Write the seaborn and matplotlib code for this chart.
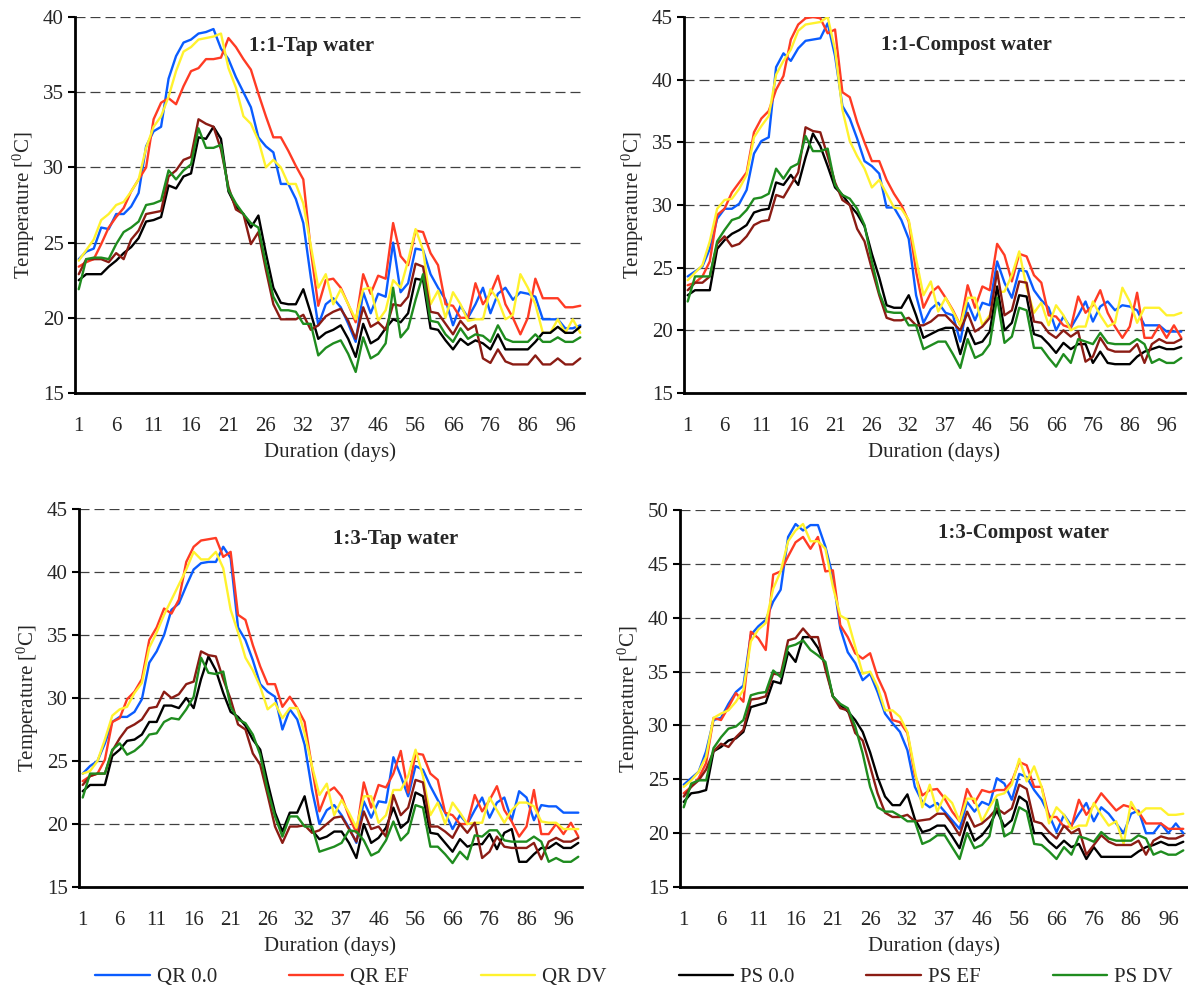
import numpy as np
import pandas as pd
import matplotlib
matplotlib.use("Agg")
import matplotlib.pyplot as plt
import seaborn as sns

# ---------------------------------------------------------------------------
# Pile temperatures (deg C) at 68 sampling occasions over ~100 days
# ---------------------------------------------------------------------------
day_labels = ["1", "6", "11", "16", "21", "26", "32", "37", "46", "56", "66", "76", "86", "96"]
series_names = ["QR 0.0", "QR EF", "QR DV", "PS 0.0", "PS EF", "PS DV"]
series_colors = ["#0a5cff", "#ff3b24", "#fff22e", "#000000", "#8b1c14", "#1f8c1f"]

# 1:1 - Tap water
a_qr00 = [23.9, 24.4, 24.6, 26.0, 25.9, 26.9, 26.9, 27.4, 28.3, 31.4, 32.4, 32.7, 35.9, 37.4, 38.3, 38.5, 38.9, 39.0, 39.2, 37.9, 37.2, 36.0, 35.0, 34.0, 32.0, 31.4, 31.0, 28.9, 28.9, 27.9, 26.3, 22.7, 19.5, 20.9,
          21.3, 20.7, 19.6, 18.4, 21.7, 20.3, 21.6, 21.4, 25.0, 21.7, 22.3, 24.6, 24.5, 22.9, 22.0, 21.2, 19.5, 20.8, 20.0, 20.9, 22.0, 20.3, 21.6, 22.0, 21.2, 21.7, 21.6, 21.4, 19.9, 19.9, 19.9, 19.3, 19.3, 19.5]
a_qref = [23.4, 23.7, 23.9, 24.9, 26.0, 26.7, 27.3, 28.4, 29.2, 30.0, 33.2, 34.3, 34.6, 34.2, 35.4, 36.4, 36.6, 37.2, 37.2, 37.3, 38.6, 38.0, 37.2, 36.5, 34.9, 33.4, 32.0, 32.0, 31.1, 30.1, 29.2, 24.5, 20.8, 22.5,
          22.6, 22.0, 20.9, 19.7, 22.9, 21.6, 22.8, 22.6, 26.3, 24.1, 23.5, 25.8, 25.7, 24.3, 23.5, 20.9, 20.8, 20.0, 20.0, 22.3, 20.9, 21.6, 22.8, 20.9, 20.0, 18.9, 20.0, 22.6, 21.3, 21.3, 21.3, 20.7, 20.7, 20.8]
a_qrdv = [23.8, 24.5, 25.2, 26.5, 26.9, 27.5, 27.7, 28.4, 29.2, 31.3, 32.7, 33.4, 34.7, 36.4, 37.7, 38.0, 38.5, 38.6, 38.7, 38.9, 36.6, 35.3, 33.4, 32.9, 31.8, 30.0, 30.5, 30.0, 28.9, 28.9, 27.6, 24.8, 22.0, 22.9,
          20.9, 21.9, 20.9, 19.9, 21.9, 22.0, 19.8, 20.5, 22.5, 22.0, 23.8, 25.9, 24.5, 20.9, 21.8, 20.0, 21.7, 20.9, 19.8, 19.9, 19.9, 21.9, 21.2, 19.9, 20.2, 22.9, 22.0, 20.9, 19.0, 19.0, 19.9, 19.0, 19.9, 19.0]
a_ps00 = [22.5, 22.9, 22.9, 22.9, 23.4, 23.8, 24.3, 24.7, 25.3, 26.4, 26.5, 26.7, 28.8, 28.6, 29.4, 29.6, 32.0, 31.9, 32.7, 31.9, 28.4, 27.4, 26.9, 26.0, 26.8, 24.3, 22.0, 21.0, 20.9, 20.9, 21.9, 20.3, 18.6, 19.0,
          19.2, 19.5, 18.6, 17.4, 19.6, 18.3, 18.6, 19.3, 19.9, 19.7, 20.3, 22.6, 22.5, 19.3, 19.2, 18.5, 17.9, 18.6, 18.2, 18.5, 18.3, 17.9, 18.9, 17.9, 17.9, 17.9, 17.9, 18.4, 19.0, 19.0, 19.4, 19.0, 19.0, 19.4]
a_psef = [22.9, 23.9, 23.9, 23.9, 23.7, 24.3, 23.9, 25.2, 25.8, 26.9, 27.0, 27.1, 29.4, 29.8, 30.5, 30.7, 33.2, 32.9, 32.7, 31.2, 28.7, 27.2, 26.9, 24.9, 25.7, 23.2, 20.9, 19.9, 19.9, 19.9, 20.2, 19.2, 19.5, 20.1,
          20.4, 20.6, 19.8, 18.6, 20.7, 19.4, 19.7, 19.2, 20.9, 20.8, 21.4, 23.6, 23.4, 20.4, 20.3, 19.6, 18.9, 19.8, 19.2, 19.5, 17.3, 17.0, 17.9, 17.1, 16.9, 16.9, 16.9, 17.5, 16.9, 16.9, 17.3, 16.9, 16.9, 17.3]
a_psdv = [21.9, 23.9, 24.0, 24.0, 23.9, 24.9, 25.7, 26.0, 26.4, 27.5, 27.6, 27.8, 29.8, 29.2, 29.8, 30.2, 32.6, 31.3, 31.3, 31.5, 28.5, 27.6, 26.9, 26.3, 26.0, 23.6, 21.4, 20.5, 20.5, 20.4, 19.6, 19.6, 17.5, 18.0,
          18.3, 18.5, 17.6, 16.4, 18.7, 17.3, 17.6, 18.3, 22.0, 18.7, 19.3, 21.2, 22.9, 19.8, 19.7, 18.9, 18.4, 19.3, 18.6, 18.9, 18.8, 18.4, 19.5, 18.6, 18.4, 18.4, 18.4, 18.9, 18.4, 18.4, 18.7, 18.4, 18.4, 18.7]

# 1:1 - Compost water
b_qr00 = [24.3, 24.7, 25.1, 26.5, 28.9, 29.7, 29.7, 30.1, 31.2, 34.1, 35.1, 35.4, 41.0, 42.1, 41.5, 42.5, 43.1, 43.2, 43.3, 44.5, 41.9, 37.9, 36.9, 35.3, 33.5, 33.1, 32.5, 29.8, 29.8, 28.8, 27.3, 22.8, 20.6, 21.7,
          22.2, 21.4, 21.2, 19.1, 22.2, 20.8, 22.2, 22.0, 25.5, 23.8, 22.6, 24.8, 24.7, 23.2, 22.4, 21.8, 20.0, 21.1, 20.2, 21.2, 22.3, 20.7, 21.9, 22.3, 21.6, 22.0, 21.9, 21.6, 20.4, 20.4, 20.4, 19.9, 19.9, 19.9]
b_qref = [23.6, 23.8, 24.3, 25.5, 29.2, 29.7, 31.0, 31.8, 32.6, 35.8, 36.9, 37.5, 39.2, 40.3, 43.2, 44.4, 44.9, 45.0, 44.9, 43.7, 44.0, 39.0, 38.6, 36.6, 35.0, 33.5, 33.5, 32.0, 30.9, 30.0, 28.7, 24.7, 21.8, 23.0,
          23.5, 22.6, 21.6, 20.4, 23.6, 21.8, 23.5, 23.2, 26.9, 26.0, 23.9, 26.1, 25.9, 24.4, 23.8, 21.2, 21.1, 20.4, 20.2, 22.7, 21.4, 22.0, 23.2, 21.4, 20.3, 19.4, 20.3, 23.0, 19.4, 19.4, 20.4, 19.4, 20.4, 19.4]
b_qrdv = [24.0, 24.6, 25.2, 27.1, 29.7, 30.4, 30.5, 31.3, 32.4, 35.4, 36.3, 37.1, 40.4, 41.5, 42.4, 43.9, 44.4, 44.5, 44.6, 45.0, 42.4, 37.6, 35.1, 33.9, 32.9, 31.4, 32.0, 30.9, 29.8, 29.7, 28.8, 25.7, 22.8, 23.9,
          21.5, 22.6, 21.5, 20.4, 22.6, 22.6, 20.4, 21.2, 23.0, 23.1, 24.4, 26.3, 23.4, 21.4, 22.2, 20.4, 22.0, 21.2, 20.0, 20.3, 20.3, 22.3, 21.2, 20.3, 20.6, 23.4, 22.3, 20.6, 21.8, 21.8, 21.8, 21.2, 21.2, 21.4]
b_ps00 = [22.8, 23.2, 23.2, 23.2, 26.5, 27.2, 27.7, 28.0, 28.4, 29.4, 29.6, 29.7, 31.8, 31.6, 32.4, 31.6, 33.8, 35.7, 34.7, 33.1, 31.4, 30.8, 30.0, 29.3, 28.3, 26.1, 24.2, 22.0, 21.8, 21.8, 22.8, 21.2, 19.4, 19.7,
          20.0, 20.2, 20.2, 18.1, 20.2, 18.9, 19.1, 19.9, 23.5, 20.0, 20.6, 22.8, 22.7, 19.7, 19.5, 18.9, 18.2, 19.0, 18.5, 18.9, 18.9, 17.4, 18.3, 17.4, 17.3, 17.3, 17.3, 17.9, 18.3, 18.5, 18.7, 18.5, 18.5, 18.7]
b_psef = [23.2, 23.8, 23.8, 24.3, 26.9, 27.5, 26.7, 26.9, 27.5, 28.4, 28.7, 28.8, 30.8, 30.6, 31.6, 32.6, 36.2, 35.9, 35.8, 33.9, 31.8, 30.4, 30.0, 28.1, 27.1, 24.9, 22.8, 21.0, 20.8, 20.8, 21.0, 20.4, 20.4, 20.7,
          21.2, 21.2, 20.6, 20.0, 21.4, 19.9, 20.3, 21.0, 24.7, 21.2, 21.6, 23.9, 23.8, 20.7, 20.6, 19.8, 19.4, 20.0, 19.5, 19.9, 17.5, 17.9, 19.4, 18.5, 18.3, 18.3, 18.3, 18.9, 17.4, 18.9, 19.3, 19.0, 19.0, 19.3]
b_psdv = [22.3, 24.3, 24.3, 24.3, 27.1, 28.0, 28.8, 29.0, 29.6, 30.5, 30.6, 30.9, 32.9, 32.1, 33.0, 33.3, 35.5, 34.3, 34.3, 34.5, 31.6, 30.8, 30.5, 29.7, 28.4, 25.5, 23.0, 21.5, 21.4, 21.4, 20.4, 20.4, 18.5, 18.8,
          19.1, 19.1, 18.1, 17.0, 19.3, 17.8, 18.1, 18.9, 22.6, 19.0, 19.5, 21.8, 21.6, 18.6, 18.6, 17.8, 17.1, 18.1, 17.4, 19.3, 19.1, 18.9, 19.8, 19.0, 18.9, 18.9, 18.9, 19.3, 18.9, 17.4, 17.7, 17.4, 17.4, 17.8]

# 1:3 - Tap water
c_qr00 = [24.0, 24.6, 25.0, 26.4, 28.1, 28.5, 28.5, 28.9, 29.9, 32.8, 33.7, 35.0, 37.0, 37.5, 38.9, 40.2, 40.7, 40.8, 40.8, 42.0, 41.1, 35.6, 34.6, 33.0, 31.1, 30.5, 30.1, 27.5, 29.1, 28.3, 26.3, 22.7, 20.0, 21.1,
          21.5, 20.7, 19.7, 18.5, 21.8, 20.5, 21.8, 21.7, 25.3, 23.8, 22.2, 24.6, 24.3, 23.0, 21.9, 20.9, 19.6, 20.7, 20.0, 21.1, 22.1, 20.5, 21.7, 22.1, 20.3, 22.6, 22.1, 20.3, 21.5, 21.4, 21.4, 20.9, 20.9, 20.9]
c_qref = [23.4, 23.8, 24.0, 25.1, 28.1, 28.4, 29.9, 30.5, 31.5, 34.6, 35.6, 37.1, 36.7, 37.8, 40.8, 42.0, 42.5, 42.6, 42.7, 41.2, 41.6, 36.6, 36.2, 34.2, 32.5, 31.1, 31.1, 29.3, 30.1, 29.2, 28.1, 24.5, 21.0, 22.5,
          22.9, 22.2, 20.6, 19.3, 23.3, 21.3, 23.1, 22.9, 24.0, 25.8, 22.5, 25.6, 25.5, 24.0, 23.5, 20.9, 20.7, 20.0, 20.0, 22.3, 21.0, 21.9, 23.0, 21.1, 20.2, 19.0, 19.8, 22.7, 19.2, 19.2, 20.0, 19.2, 20.1, 19.0]
c_qrdv = [24.0, 24.2, 25.0, 26.7, 28.6, 29.1, 29.3, 30.4, 31.2, 34.0, 35.2, 36.6, 37.8, 39.0, 40.2, 41.6, 41.0, 41.0, 41.6, 40.3, 37.0, 35.2, 33.2, 32.2, 30.9, 29.1, 29.6, 28.4, 29.2, 29.2, 27.2, 24.6, 22.3, 23.2,
          20.7, 21.9, 20.9, 19.7, 22.2, 22.2, 20.1, 20.7, 22.7, 22.7, 23.8, 25.9, 23.8, 20.7, 21.7, 20.0, 21.7, 20.9, 20.0, 20.1, 20.1, 22.1, 21.1, 20.1, 21.1, 21.7, 21.7, 21.4, 20.2, 20.1, 20.1, 19.6, 19.6, 19.6]
c_ps00 = [22.6, 23.1, 23.1, 23.1, 25.4, 25.9, 26.6, 26.7, 27.1, 28.1, 28.1, 29.4, 29.4, 29.2, 30.0, 29.2, 31.5, 33.3, 32.2, 30.4, 28.9, 28.5, 27.8, 26.7, 25.9, 23.3, 20.9, 19.4, 20.9, 20.9, 22.2, 19.5, 18.8, 19.0,
          19.4, 19.4, 18.5, 17.3, 20.0, 18.5, 18.9, 19.7, 21.3, 19.7, 20.2, 22.5, 22.2, 19.3, 19.2, 18.5, 17.8, 18.8, 18.2, 18.4, 18.4, 19.2, 18.0, 19.3, 19.6, 17.0, 17.0, 17.6, 18.1, 18.1, 18.5, 18.1, 18.1, 18.5]
c_psef = [23.1, 23.8, 24.0, 24.0, 25.8, 26.8, 27.6, 27.9, 28.3, 29.2, 29.3, 30.5, 30.0, 30.3, 31.1, 31.3, 33.7, 33.4, 33.3, 31.5, 29.9, 27.9, 27.5, 25.6, 24.7, 22.3, 19.8, 18.5, 19.8, 19.8, 19.9, 19.3, 19.5, 20.0,
          20.5, 20.6, 19.6, 18.6, 21.0, 19.6, 19.8, 19.0, 22.3, 20.7, 21.3, 23.5, 23.3, 19.8, 19.8, 19.4, 18.9, 20.0, 19.3, 20.1, 17.3, 17.8, 19.0, 18.2, 18.1, 18.1, 18.1, 18.5, 17.2, 18.6, 18.9, 18.6, 18.6, 18.9]
c_psdv = [22.1, 24.0, 24.0, 24.0, 25.9, 26.4, 25.5, 25.8, 26.3, 27.1, 27.2, 28.1, 28.4, 28.3, 29.1, 30.1, 33.2, 32.0, 31.9, 32.1, 29.3, 28.3, 28.0, 27.1, 25.5, 22.7, 20.6, 19.0, 20.6, 20.6, 19.8, 19.8, 17.8, 18.0,
          18.2, 18.5, 19.5, 19.4, 18.7, 17.5, 17.8, 18.7, 20.2, 18.7, 19.3, 21.5, 21.3, 18.2, 18.2, 17.6, 16.9, 17.8, 17.2, 19.1, 19.0, 19.5, 19.5, 18.7, 18.6, 18.6, 18.6, 19.0, 18.6, 17.0, 17.3, 17.0, 17.0, 17.4]

# 1:3 - Compost water
d_qr00 = [24.5, 25.1, 25.7, 27.6, 30.5, 30.7, 32.0, 33.1, 33.7, 38.4, 39.2, 39.8, 41.5, 42.6, 47.5, 48.7, 48.1, 48.6, 48.6, 46.6, 43.8, 39.0, 36.8, 35.8, 34.2, 34.8, 33.1, 31.1, 30.2, 29.4, 27.7, 24.3, 22.9, 22.4,
          22.8, 22.0, 21.2, 20.4, 22.9, 22.0, 22.9, 22.6, 25.1, 24.6, 23.1, 25.5, 25.2, 24.0, 23.1, 21.7, 20.1, 21.7, 20.7, 21.8, 22.8, 21.1, 22.4, 21.8, 20.9, 20.0, 21.8, 22.1, 20.0, 20.0, 20.9, 20.0, 20.9, 20.0]
d_qref = [23.7, 24.3, 25.1, 26.5, 30.7, 30.5, 31.7, 33.0, 32.2, 38.7, 38.1, 37.0, 44.0, 44.3, 45.7, 47.0, 47.5, 46.4, 47.5, 44.3, 44.4, 39.3, 38.2, 36.7, 36.2, 36.7, 34.5, 33.0, 30.5, 30.3, 29.3, 25.4, 23.5, 24.0,
          24.1, 23.2, 22.0, 21.1, 24.1, 22.8, 24.0, 23.8, 24.0, 24.0, 24.8, 26.6, 26.3, 24.3, 24.3, 21.5, 21.5, 20.6, 20.6, 23.1, 21.7, 22.6, 23.7, 22.9, 22.1, 22.6, 22.4, 22.0, 20.9, 20.9, 20.9, 20.4, 20.4, 20.4]
d_qrdv = [24.3, 24.9, 25.7, 27.1, 30.7, 31.1, 31.4, 32.2, 33.3, 37.8, 38.9, 39.5, 42.7, 44.3, 47.1, 48.1, 48.7, 47.1, 47.1, 46.4, 42.9, 40.2, 39.8, 37.3, 34.8, 35.0, 33.6, 31.4, 31.4, 30.8, 29.4, 25.8, 22.4, 24.5,
          22.0, 23.5, 22.8, 21.1, 23.2, 23.2, 21.1, 22.4, 23.5, 23.7, 24.5, 26.9, 24.8, 26.2, 24.3, 20.9, 22.4, 21.7, 20.4, 20.7, 20.7, 22.8, 21.7, 20.7, 21.1, 19.0, 22.9, 21.7, 22.3, 22.3, 22.3, 21.7, 21.7, 21.8]
d_ps00 = [22.9, 23.7, 23.8, 24.0, 27.6, 28.0, 28.6, 28.8, 29.4, 31.7, 31.9, 32.1, 34.1, 33.9, 36.8, 35.9, 38.2, 38.2, 37.2, 35.6, 32.7, 31.9, 31.3, 30.5, 29.4, 27.5, 25.2, 23.4, 22.6, 22.6, 23.6, 21.3, 20.1, 20.3,
          20.7, 20.7, 19.7, 18.6, 21.0, 19.3, 19.8, 20.7, 22.1, 20.6, 21.2, 23.4, 22.9, 20.0, 20.0, 19.2, 18.6, 19.3, 18.7, 19.0, 17.6, 18.7, 17.8, 17.8, 17.8, 17.8, 17.8, 18.3, 18.7, 18.9, 19.2, 18.9, 18.9, 19.2]
d_psef = [23.4, 24.3, 24.9, 25.9, 27.6, 28.3, 28.0, 28.9, 29.6, 32.4, 32.5, 32.7, 34.8, 34.7, 37.9, 38.1, 39.0, 38.2, 38.2, 35.2, 32.7, 31.6, 31.4, 29.3, 28.6, 26.2, 23.7, 21.9, 21.5, 21.5, 21.7, 21.1, 21.2, 21.3,
          21.8, 21.8, 20.9, 19.8, 22.0, 20.6, 20.9, 21.5, 22.3, 21.8, 22.3, 24.5, 24.1, 21.1, 20.9, 20.1, 19.5, 20.7, 20.0, 20.4, 18.0, 18.9, 19.8, 19.2, 18.9, 18.9, 18.9, 19.3, 18.0, 19.3, 19.7, 19.5, 19.5, 19.8]
d_psdv = [22.4, 24.6, 24.9, 24.9, 27.9, 28.9, 29.7, 29.9, 30.5, 32.8, 33.0, 33.1, 35.1, 34.5, 37.3, 37.5, 37.9, 37.0, 36.5, 35.9, 32.7, 32.0, 31.6, 29.9, 27.4, 24.3, 22.4, 22.0, 22.0, 21.6, 21.1, 21.1, 19.0, 19.3,
          19.8, 19.8, 18.7, 17.6, 20.0, 18.6, 18.9, 19.7, 23.1, 19.7, 20.1, 22.4, 22.0, 19.0, 18.9, 18.3, 17.6, 18.7, 18.0, 19.7, 19.5, 19.2, 20.1, 19.5, 19.3, 19.3, 19.3, 19.8, 19.5, 18.0, 18.3, 18.0, 18.0, 18.4]

panels = [
    dict(title="1:1-Tap water", ylim=(15, 40), series=[a_qr00, a_qref, a_qrdv, a_ps00, a_psef, a_psdv],
         rect=[75, 17, 509, 376], title_xy=(312, 46)),
    dict(title="1:1-Compost water", ylim=(15, 45), series=[b_qr00, b_qref, b_qrdv, b_ps00, b_psef, b_psdv],
         rect=[684, 17, 501, 376], title_xy=(966, 45)),
    dict(title="1:3-Tap water", ylim=(15, 45), series=[c_qr00, c_qref, c_qrdv, c_ps00, c_psef, c_psdv],
         rect=[79, 509, 503, 378], title_xy=(396, 539)),
    dict(title="1:3-Compost water", ylim=(15, 50), series=[d_qr00, d_qref, d_qrdv, d_ps00, d_psef, d_psdv],
         rect=[680, 510, 507, 377], title_xy=(1024, 533)),
]

sns.set_style("white")
plt.rcParams["font.family"] = ["Liberation Serif", "DejaVu Serif"]
plt.rcParams["mathtext.fontset"] = "custom"
plt.rcParams["mathtext.rm"] = "Liberation Serif"

FS = 15
W, H = 1188, 992
fig = plt.figure(figsize=(W / 100, H / 100), dpi=100)
fig.patch.set_facecolor("white")

first_ax = None
for p in panels:
    x0, y0, w, h = p["rect"]
    ax = fig.add_axes([x0 / W, 1 - (y0 + h) / H, w / W, h / H])
    if first_ax is None:
        first_ax = ax

    n = len(p["series"][0])
    frames = []
    for name, vals in zip(series_names, p["series"]):
        frames.append(pd.DataFrame({"occasion": np.arange(len(vals)), "temp": vals, "series": name}))
    df = pd.concat(frames, ignore_index=True)

    sns.lineplot(data=df, x="occasion", y="temp", hue="series", hue_order=series_names,
                 palette=series_colors, estimator=None, sort=False, linewidth=1.7,
                 legend=False, ax=ax)

    lo, hi = p["ylim"]
    ax.set_xlim(-0.5, n - 0.5)
    ax.set_ylim(lo, hi)
    ax.set_yticks(np.arange(lo, hi + 1, 5))
    ax.set_xticks(np.arange(0, 5 * len(day_labels), 5))
    ax.set_xticklabels(day_labels)
    ax.set_xticks(np.arange(-0.5, 5 * len(day_labels) - 1, 5), minor=True)

    ax.tick_params(axis="x", which="major", length=0, pad=17, labelsize=FS)
    ax.tick_params(axis="x", which="minor", length=5, width=1.5, direction="out", color="black")
    ax.tick_params(axis="y", which="major", length=5, width=1.5, direction="out", pad=3,
                   labelsize=FS, color="black", left=True)

    for s in ["top", "right"]:
        ax.spines[s].set_visible(False)
    for s in ["left", "bottom"]:
        ax.spines[s].set_linewidth(2)
        ax.spines[s].set_color("black")

    ax.yaxis.grid(True, linestyle=(0, (8, 4)), color="#404040", linewidth=0.9)
    ax.xaxis.grid(False)
    ax.set_axisbelow(True)

    ax.set_xlabel("Duration (days)", fontsize=FS, labelpad=5)
    ax.set_ylabel(r"Temperature [$\mathregular{^0}$C]", fontsize=FS, labelpad=4)

    tx, ty = p["title_xy"]
    fig.text(tx / W, 1 - ty / H, p["title"], fontsize=FS, fontweight="bold",
             ha="center", va="center")

handles = first_ax.get_lines()[:len(series_names)]
fig.legend(handles, series_names, loc="center", bbox_to_anchor=(634 / W, 1 - 977 / H),
           ncol=6, frameon=False, fontsize=FS, handlelength=2.6, handletextpad=0.35,
           columnspacing=3.45)

fig.savefig("out.png", dpi=100, facecolor="white")
